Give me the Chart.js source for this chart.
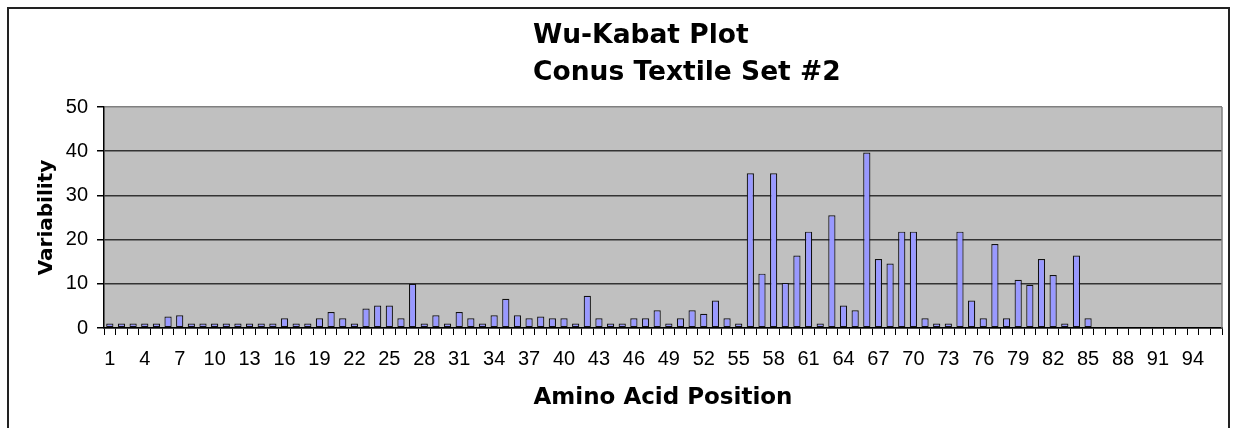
<!DOCTYPE html>
<html lang="en">
<head>
    <meta charset="UTF-8">
    <title>Wu-Kabat Plot</title>
    <script src="https://cdn.jsdelivr.net/npm/chart.js"></script>
    <style>
        body { margin: 0; background: #fff; }
        #wrap { width: 1236px; height: 428px; }
    </style>
</head>
<body>
    <div id="wrap"><canvas id="wuKabat"></canvas></div>

    <script>
        // chart data
        const titleLines = ['Wu-Kabat Plot', 'Conus Textile Set #2'];
        const positions = [
            1, 2, 3, 4, 5, 6, 7, 8, 9, 10, 11, 12, 13, 14, 15, 16,
            17, 18, 19, 20, 21, 22, 23, 24, 25, 26, 27, 28, 29, 30, 31, 32,
            33, 34, 35, 36, 37, 38, 39, 40, 41, 42, 43, 44, 45, 46, 47, 48,
            49, 50, 51, 52, 53, 54, 55, 56, 57, 58, 59, 60, 61, 62, 63, 64,
            65, 66, 67, 68, 69, 70, 71, 72, 73, 74, 75, 76, 77, 78, 79, 80,
            81, 82, 83, 84, 85, 86, 87, 88, 89, 90, 91, 92, 93, 94, 95, 96
        ];
        const variability = [
            1, 1, 1, 1, 1, 2.6, 2.9, 1, 1, 1, 1, 1, 1, 1, 1, 2.2,
            1, 1, 2.2, 3.6, 2.2, 1, 4.4, 5.1, 5.1, 2.2, 10, 1, 2.9, 1, 3.6, 2.2,
            1, 2.9, 6.6, 2.9, 2.2, 2.6, 2.2, 2.2, 1, 7.3, 2.2, 1, 1, 2.2, 2.2, 4.0,
            1, 2.2, 4.0, 3.2, 6.2, 2.2, 1, 35, 12.3, 35, 10.2, 16.4, 21.8, 1, 25.5, 5.1,
            4.0, 39.7, 15.6, 14.6, 21.8, 21.8, 2.2, 1, 1, 21.8, 6.2, 2.2, 19, 2.2, 10.9, 9.8,
            15.6, 12, 1, 16.4, 2.2, null, null, null, null, null, null, null, null, null, null, null
        ];
        const yTicks = [0, 10, 20, 30, 40, 50];

        // white page, outer frame, grey plot area, title block
        const framePlugin = {
            id: 'frame',
            beforeDraw(chart) {
                const { ctx, chartArea: a } = chart;
                ctx.save();
                ctx.fillStyle = '#fff';
                ctx.fillRect(0, 0, chart.width, chart.height);
                ctx.strokeStyle = '#222';
                ctx.lineWidth = 2;
                ctx.strokeRect(8, 8, 1221, 440);
                ctx.fillStyle = '#C0C0C0';
                ctx.fillRect(a.left, a.top, a.right - a.left, a.bottom - a.top);
                ctx.restore();
            },
            afterDraw(chart) {
                const { ctx, chartArea: a } = chart;
                ctx.save();
                ctx.strokeStyle = '#808080';
                ctx.lineWidth = 1.5;
                ctx.beginPath();
                ctx.moveTo(a.right, a.top);
                ctx.lineTo(a.right, a.bottom);
                ctx.stroke();

                ctx.fillStyle = '#000';
                ctx.font = 'bold 26.5px "DejaVu Sans"';
                ctx.textAlign = 'left';
                ctx.textBaseline = 'alphabetic';
                ctx.fillText(titleLines[0], 533, 43);
                ctx.fillText(titleLines[1], 533, 79.5);
                ctx.restore();
            }
        };

        new Chart(document.getElementById('wuKabat'), {
            type: 'bar',
            data: {
                labels: positions,
                datasets: [{
                    label: 'Variability',
                    data: variability,
                    backgroundColor: '#9999FF',
                    borderColor: '#111',
                    borderWidth: 1.2,
                    borderSkipped: false,
                    barPercentage: 0.62,
                    categoryPercentage: 1
                }]
            },
            options: {
                responsive: true,
                maintainAspectRatio: false,
                animation: false,
                layout: { padding: { top: 107, left: 0, right: 14, bottom: 10 } },
                plugins: {
                    legend: { display: false },
                    tooltip: { enabled: false },
                    title: { display: false }
                },
                scales: {
                    x: {
                        grid: { offset: true, drawOnChartArea: false, tickLength: 7, color: '#000', tickColor: '#000' },
                        border: { color: '#000', width: 1.5 },
                        ticks: {
                            autoSkip: false,
                            maxRotation: 0,
                            padding: 12,
                            color: '#000',
                            font: { family: 'Arial, "Liberation Sans", sans-serif', size: 20 },
                            callback: (v, i) => i % 3 === 0 ? positions[i] : ''
                        },
                        title: {
                            display: true,
                            text: 'Amino Acid Position',
                            color: '#000',
                            font: { family: '"DejaVu Sans"', weight: 'bold', size: 23 },
                            padding: { top: 0, bottom: 6 }
                        },
                        afterFit: s => { s.height = 90; }
                    },
                    y: {
                        min: yTicks[0],
                        max: yTicks[yTicks.length - 1],
                        afterBuildTicks: s => { s.ticks = yTicks.map(v => ({ value: v })); },
                        grid: {
                            color: c => c.tick && c.tick.value === 50 ? '#808080' : '#333',
                            lineWidth: 1.5,
                            tickLength: 7,
                            tickColor: '#000'
                        },
                        border: { color: '#000', width: 1.5 },
                        ticks: {
                            padding: 9,
                            color: '#000',
                            font: { family: 'Arial, "Liberation Sans", sans-serif', size: 20 }
                        },
                        title: {
                            display: true,
                            text: 'Variability',
                            color: '#000',
                            font: { family: '"DejaVu Sans"', weight: 'bold', size: 20 },
                            padding: { top: 35, bottom: 0 }
                        },
                        afterFit: s => { s.width = 104; }
                    }
                }
            },
            plugins: [framePlugin]
        });
    </script>
</body>
</html>
